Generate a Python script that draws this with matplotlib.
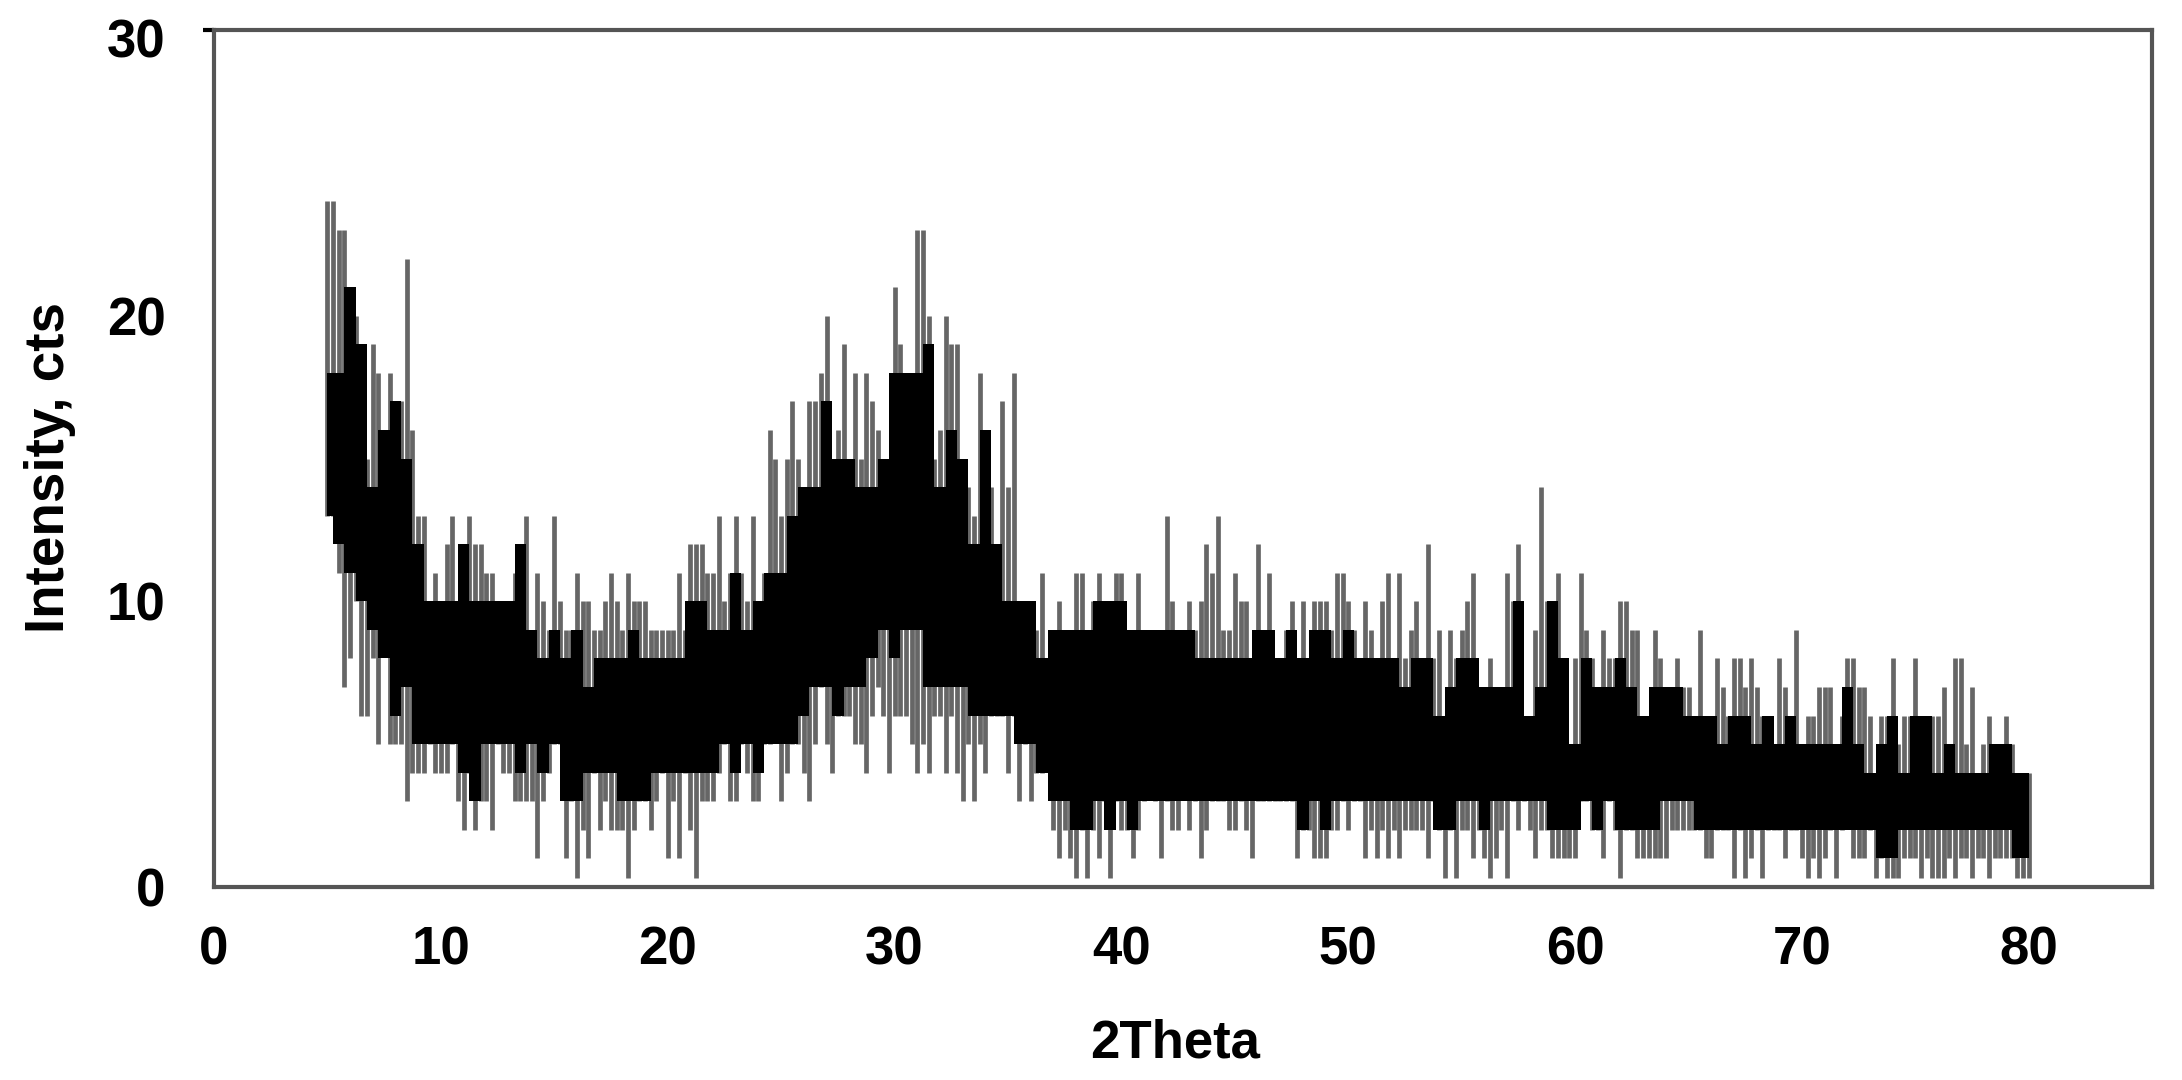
import numpy as np
from matplotlib import pyplot as plt
from matplotlib.transforms import ScaledTranslation

# upper and lower ends of the spikes, one row per degree from 5 to 80, step 0.25
peak_hi = [
    24,24,23,23, 21,20,19,15, 19,18,16,18, 16,17,22,16, 13,13,10,11,
    10,12,13,10, 12,13,12,12, 11,11,10,10, 10,11,12,13, 9,11,10,9,
    13,10,9,9, 11,10,10,9, 9,10,11,10, 9,11,10,10, 10,9,9,9,
    9,9,11,9, 12,12,12,11, 11,13,10,11, 13,11,10,13, 10,11,16,15,
    13,15,17,15, 14,17,17,18, 20,14,16,19, 14,18,15,18, 17,16,15,15,
    21,19,18,18, 23,23,20,15, 16,20,19,19, 15,14,13,18, 15,14,12,17,
    14,18,10,10, 10,9,11,8, 9,10,9,9, 11,11,9,10, 11,9,10,11,
    11,9,9,11, 9,8,9,9, 13,10,9,9, 10,9,10,12, 11,13,9,9,
    11,10,10,8, 12,9,11,8, 7,9,10,8, 10,7,10,10, 10,9,11,11,
    10,9,8,10, 9,8,10,11, 8,11,8,9, 10,7,12,8, 9,6,9,8,
    9,10,11,6, 6,8,7,7, 11,10,12,6, 6,9,14,10, 10,11,6,5,
    8,11,9,8, 6,9,8,8, 10,10,9,9, 6,6,9,8, 7,7,8,7,
    7,5,9,6, 6,8,7,6, 8,8,7,8, 7,6,6,5, 8,7,6,9,
    5,6,6,7, 7,7,5,6, 8,8,7,7, 6,4,6,6, 8,5,6,6,
    8,6,5,6, 6,7,5,8, 8,5,7,4, 5,6,5,5, 6,5,4,4, 4,
]
peak_lo = [
    13,13,11,7, 8,10,6,6, 8,5,9,5, 5,5,3,4, 4,4,5,4,
    4,4,5,3, 2,4,2,3, 3,2,5,4, 4,3,3,3, 3,1,3,4,
    5,5,1,3, 0.3,2,1,4, 2,3,2,2, 2,0.3,2,3, 3,2,3,4,
    1,3,1,4, 2,0.3,3,3, 3,4,5,3, 3,5,4,3, 3,5,5,6,
    3,4,5,5, 4,3,5,7, 5,4,6,6, 6,5,5,4, 6,7,6,4,
    6,6,6,5, 4,5,4,6, 6,4,6,4, 3,5,3,5, 4,6,6,6,
    4,6,3,5, 3,4,4,5, 2,1,2,1, 0.3,2,0.3,2, 1,3,0.3,3,
    2,2,1,2, 3,4,3,1, 3,2,2,4, 2,3,1,2, 3,3,3,2,
    2,3,2,1, 3,3,3,3, 3,3,3,1, 2,2,1,1, 1,2,2,3,
    2,3,3,1, 2,1,2,1, 2,1,2,2, 2,2,1,3, 2,0.3,2,0.3,
    2,2,1,2, 1,0.3,1,2, 0.3,3,2,3, 2,1,2,2, 1,1,1,1,
    1,3,3,2, 2,1,3,2, 0.3,2,2,1, 1,1,1,1, 1,2,2,2,
    2,2,2,1, 1,2,2,2, 0.3,2,0.3,1, 2,0.3,2,2, 2,1,2,2,
    1,0.3,1,0.3, 1,2,0.3,2, 3,1,1,1, 2,0.3,1,0.3, 0.3,0.3,1,1,
    1,0.3,1,0.3, 0.3,0.3,1,0.3, 1,1,0.3,1, 1,0.3,1,1, 1,1,0.3,0.3, 0.3,
]

# the solid black band, step 0.5
band_hi = [
    18,18,21,19,14,16,17,15,12,10,10,10,12,10,10,10,10,12,9,8,9,8,9,7,8,8,8,9,8,8,8,8,10,
    10,9,9,11,9,10,11,11,13,14,14,17,15,15,14,14,15,18,18,18,19,14,16,15,12,16,12,10,10,10,8,9,9,9,9,10,10,10,9,9,9,9,9,9,
    8,8,8,8,8,9,9,8,9,8,9,9,8,9,8,8,8,8,7,8,8,6,7,8,8,7,7,7,10,6,7,10,8,5,8,7,7,8,7,6,7,7,7,6,6,
    6,5,6,6,5,6,5,6,5,5,5,5,7,5,4,5,6,4,6,6,4,5,4,4,4,5,5,4,4,
]
band_lo = [
    13,12,11,10,9,8,6,7,5,5,5,5,4,3,5,5,5,4,5,4,5,3,3,4,4,4,3,3,3,4,4,4,4,
    4,4,5,4,5,4,5,5,5,6,7,7,6,7,7,8,9,8,9,9,7,7,7,7,6,6,6,6,5,5,4,3,3,2,2,3,2,3,2,3,3,3,3,3,
    3,3,3,3,3,3,3,3,3,2,3,2,3,3,3,3,3,3,3,3,3,2,2,3,3,2,3,3,3,3,3,2,2,2,3,2,3,2,2,2,2,3,3,3,2,
    2,2,2,2,2,2,2,2,2,2,2,2,2,2,2,1,1,2,2,2,2,2,2,2,2,2,2,1,1,
]
x_ticks = [0, 10, 20, 30, 40, 50, 60, 70, 80]
y_ticks = [0, 10, 20, 30]

two_theta = 5 + 0.25 * np.arange(len(peak_hi))
band_x = 5 + 0.5 * np.arange(len(band_hi))

plt.rcParams['font.family'] = ['Liberation Sans', 'DejaVu Sans']
fig = plt.figure(figsize=(21.82, 10.80), dpi=100)
ax = fig.add_axes([214 / 2182, 193 / 1080, 1938 / 2182, 857 / 1080])

ax.vlines(two_theta, peak_lo, peak_hi, color='#666666', linewidth=3.4, zorder=2)
ax.fill_between(band_x, band_lo, band_hi, step='mid', color='black', linewidth=0, zorder=3)

ax.set_xlim(0, 85.43)
ax.set_ylim(0, 30)
ax.set_xticks(x_ticks)
ax.set_yticks(y_ticks)
ax.tick_params(length=0, labelsize=38)
ax.tick_params(axis='x', pad=28)
ax.tick_params(axis='y', pad=35)
for label in ax.get_xticklabels() + ax.get_yticklabels():
    label.set_fontweight('bold')
top_label = ax.get_yticklabels()[-1]
top_label.set_transform(top_label.get_transform() + ScaledTranslation(0, -6 / 72, fig.dpi_scale_trans))
ax.yaxis.get_major_ticks()[-1].tick1line.set_markersize(8)
ax.yaxis.get_major_ticks()[-1].tick1line.set_markeredgewidth(3)
ax.yaxis.get_major_ticks()[-1].tick1line.set_color('#555555')

for spine in ax.spines.values():
    spine.set_linewidth(3)
    spine.set_color('#555555')

ax.set_xlabel('2Theta', fontsize=38, fontweight='bold', labelpad=31, x=0.496)
ax.set_ylabel('Intensity, cts', fontsize=39.5, fontweight='bold', labelpad=22, y=0.49)

plt.savefig('out.png', dpi=100)
